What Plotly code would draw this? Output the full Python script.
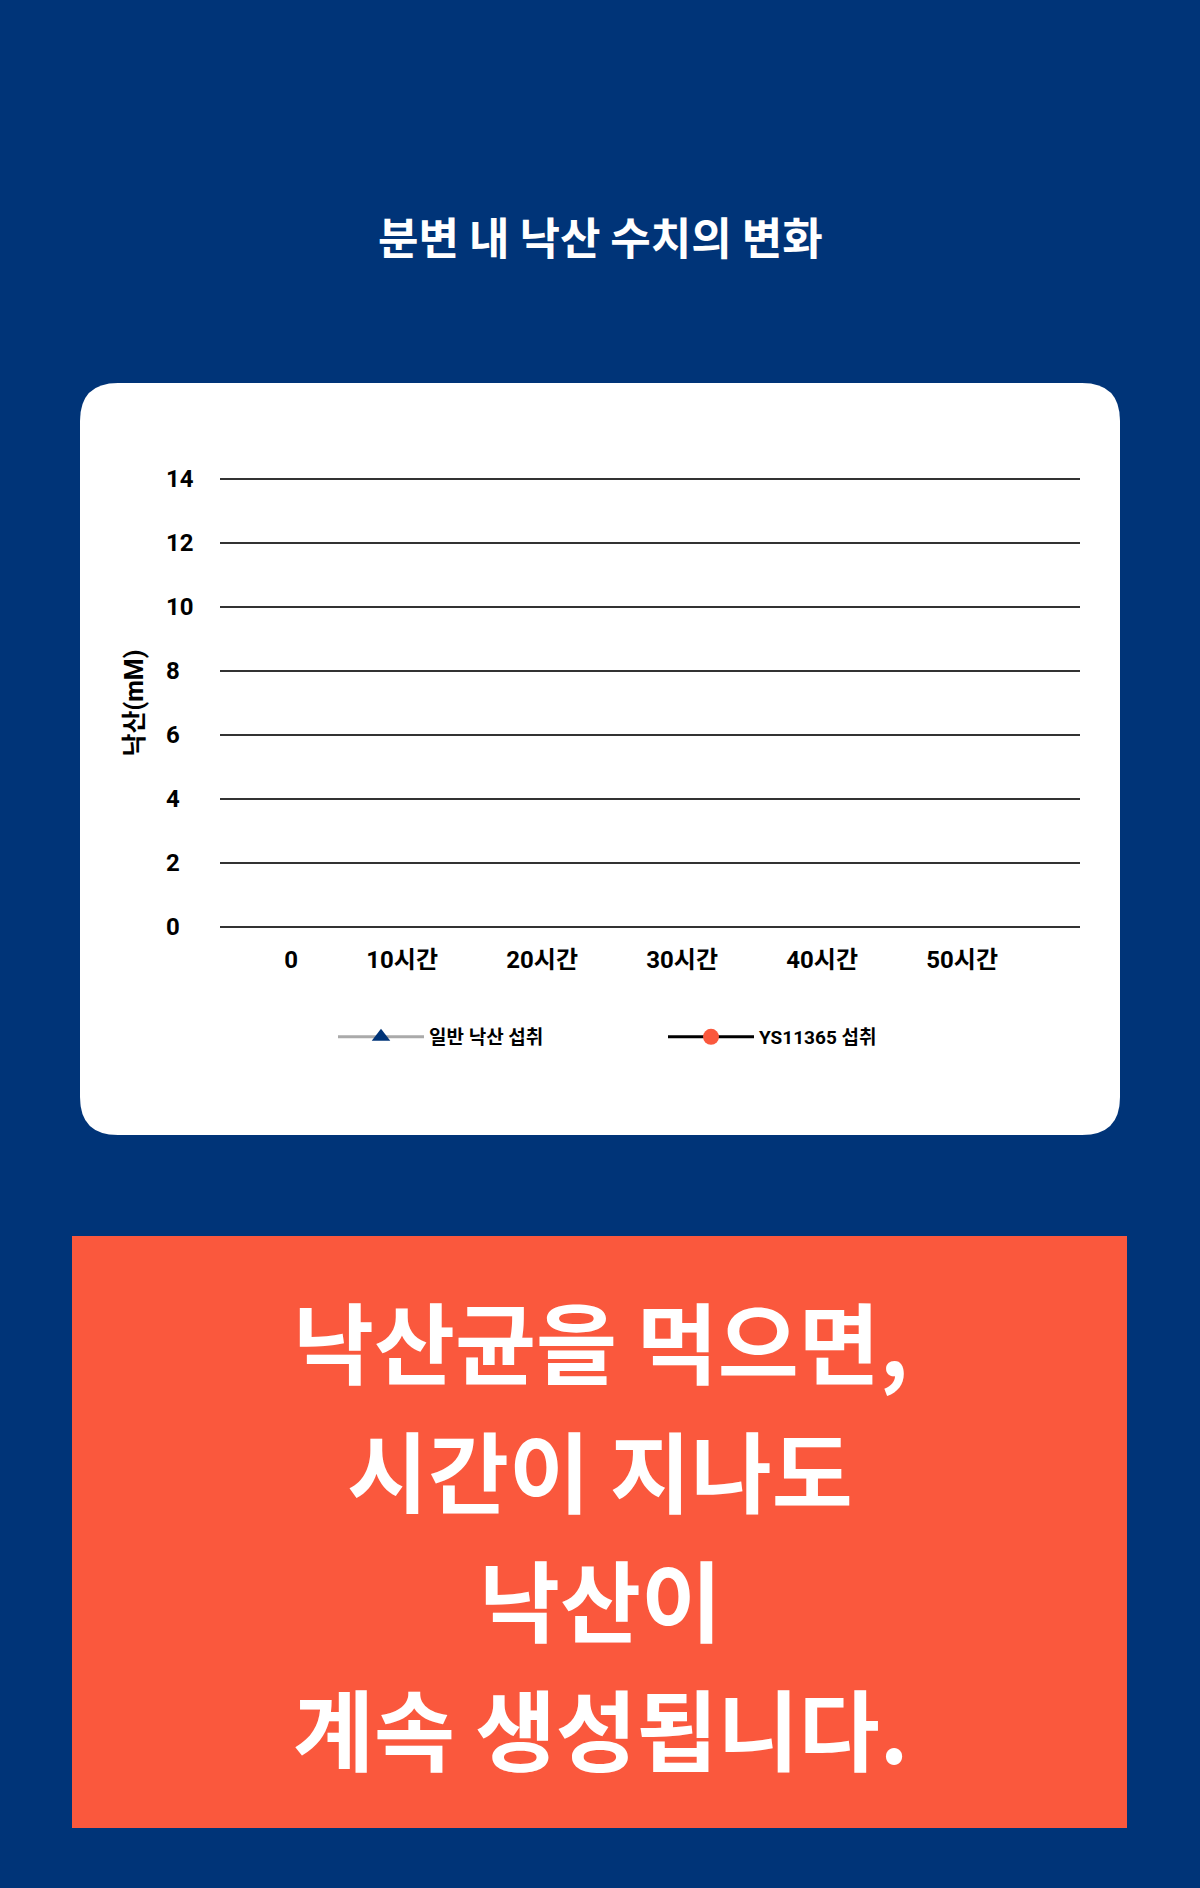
import plotly.graph_objects as go

W, H = 1200, 1888

# data (no measured values are plotted in the source chart, only the legend)
hours = [0, 10, 20, 30, 40, 50]
hour_labels = ['0', '10시간', '20시간', '30시간', '40시간', '50시간']
normal_butyrate = [None, None, None, None, None, None]
ys11365_butyrate = [None, None, None, None, None, None]
y_ticks = [0, 2, 4, 6, 8, 10, 12, 14]

series_names = ['일반 낙산 섭취', 'YS11365 섭취']
title_text = '분변 내 낙산 수치의 변화'
y_title = '낙산(mM)'
message_lines = ['낙산균을 먹으면,', '시간이 지나도', '낙산이', '계속 생성됩니다.']

NAVY = '#003478'
ORANGE = '#FA583D'
FONT = 'Roboto, Noto Sans CJK KR'
KFONT = 'Noto Sans CJK KR'


def px(x):
    return x / W


def py(y):
    return 1 - y / H


def rounded_rect(x0, y0, x1, y1, r):
    rx, ry = r / W, r / H
    a, b, c, d = px(x0), py(y0), px(x1), py(y1)
    return (f'M {a + rx},{b} L {c - rx},{b} Q {c},{b} {c},{b - ry} '
            f'L {c},{d + ry} Q {c},{d} {c - rx},{d} '
            f'L {a + rx},{d} Q {a},{d} {a},{d + ry} '
            f'L {a},{b - ry} Q {a},{b} {a + rx},{b} Z')


fig = go.Figure()
fig.add_trace(go.Scatter(
    x=hours, y=normal_butyrate, name=series_names[0],
    mode='lines+markers',
    line=dict(color='#AAAAAA', width=3),
    marker=dict(symbol='triangle-up', size=16, color=NAVY)))
fig.add_trace(go.Scatter(
    x=hours, y=ys11365_butyrate, name=series_names[1],
    mode='lines+markers',
    line=dict(color='black', width=3),
    marker=dict(symbol='circle', size=18, color=ORANGE)))

shapes = [
    dict(type='path', xref='paper', yref='paper', layer='below',
         path=rounded_rect(80, 383, 1120, 1135, 38),
         fillcolor='white', line=dict(width=0)),
    dict(type='rect', xref='paper', yref='paper', layer='below',
         x0=px(72), x1=px(1127), y0=py(1828), y1=py(1236),
         fillcolor=ORANGE, line=dict(width=0)),
]

annotations = [
    dict(text=title_text, x=0.5, y=py(236), xref='paper', yref='paper',
         showarrow=False, xanchor='center', yanchor='middle',
         font=dict(family=KFONT, size=44, color='white', weight=700)),
]
for i, line in enumerate(message_lines):
    annotations.append(dict(
        text=line, x=0.5, y=py(1338 + 129 * i), xref='paper', yref='paper',
        showarrow=False, xanchor='center', yanchor='middle',
        font=dict(family=KFONT, size=88, color='white', weight=700)))

# y range padded so the 0 and 14 grid lines and labels are kept
pad = 0.5
unit = (927 - 479) / 14

fig.update_layout(
    width=W, height=H,
    margin=dict(l=0, r=0, t=0, b=0),
    paper_bgcolor=NAVY,
    plot_bgcolor='rgba(0,0,0,0)',
    shapes=shapes,
    annotations=annotations,
    showlegend=True,
    legend=dict(
        orientation='h', x=px(333), y=py(1037), xanchor='left', yanchor='middle',
        bgcolor='rgba(0,0,0,0)', itemwidth=86,
        entrywidth=229, entrywidthmode='pixels',
        font=dict(family=FONT, size=19, color='black', weight=700)),
    xaxis=dict(
        domain=[px(220), px(1080)], range=[-5.57, 55.86],
        tickvals=hours, ticktext=hour_labels,
        ticklabelposition='outside left', ticks='',
        showgrid=False, zeroline=False, showline=False,
        tickfont=dict(family=FONT, size=24, color='black', weight=700),
        ticklabelstandoff=0, fixedrange=True),
    yaxis=dict(
        domain=[py(927 + pad * unit), py(479 - pad * unit)], range=[-pad, 14 + pad],
        tickvals=y_ticks, anchor='free', position=px(162), side='left',
        ticklabelposition='inside', ticks='',
        showgrid=True, gridcolor='#333333', gridwidth=2,
        zeroline=False, showline=False,
        tickfont=dict(family=FONT, size=24, color='black', weight=700),
        title=dict(text=y_title, standoff=14,
                   font=dict(family=FONT, size=25, color='black', weight=700)),
        fixedrange=True),
)

fig.write_html('out.html', config={'displayModeBar': False},
               post_script="document.body.style.margin='0';document.body.style.overflow='hidden';")
